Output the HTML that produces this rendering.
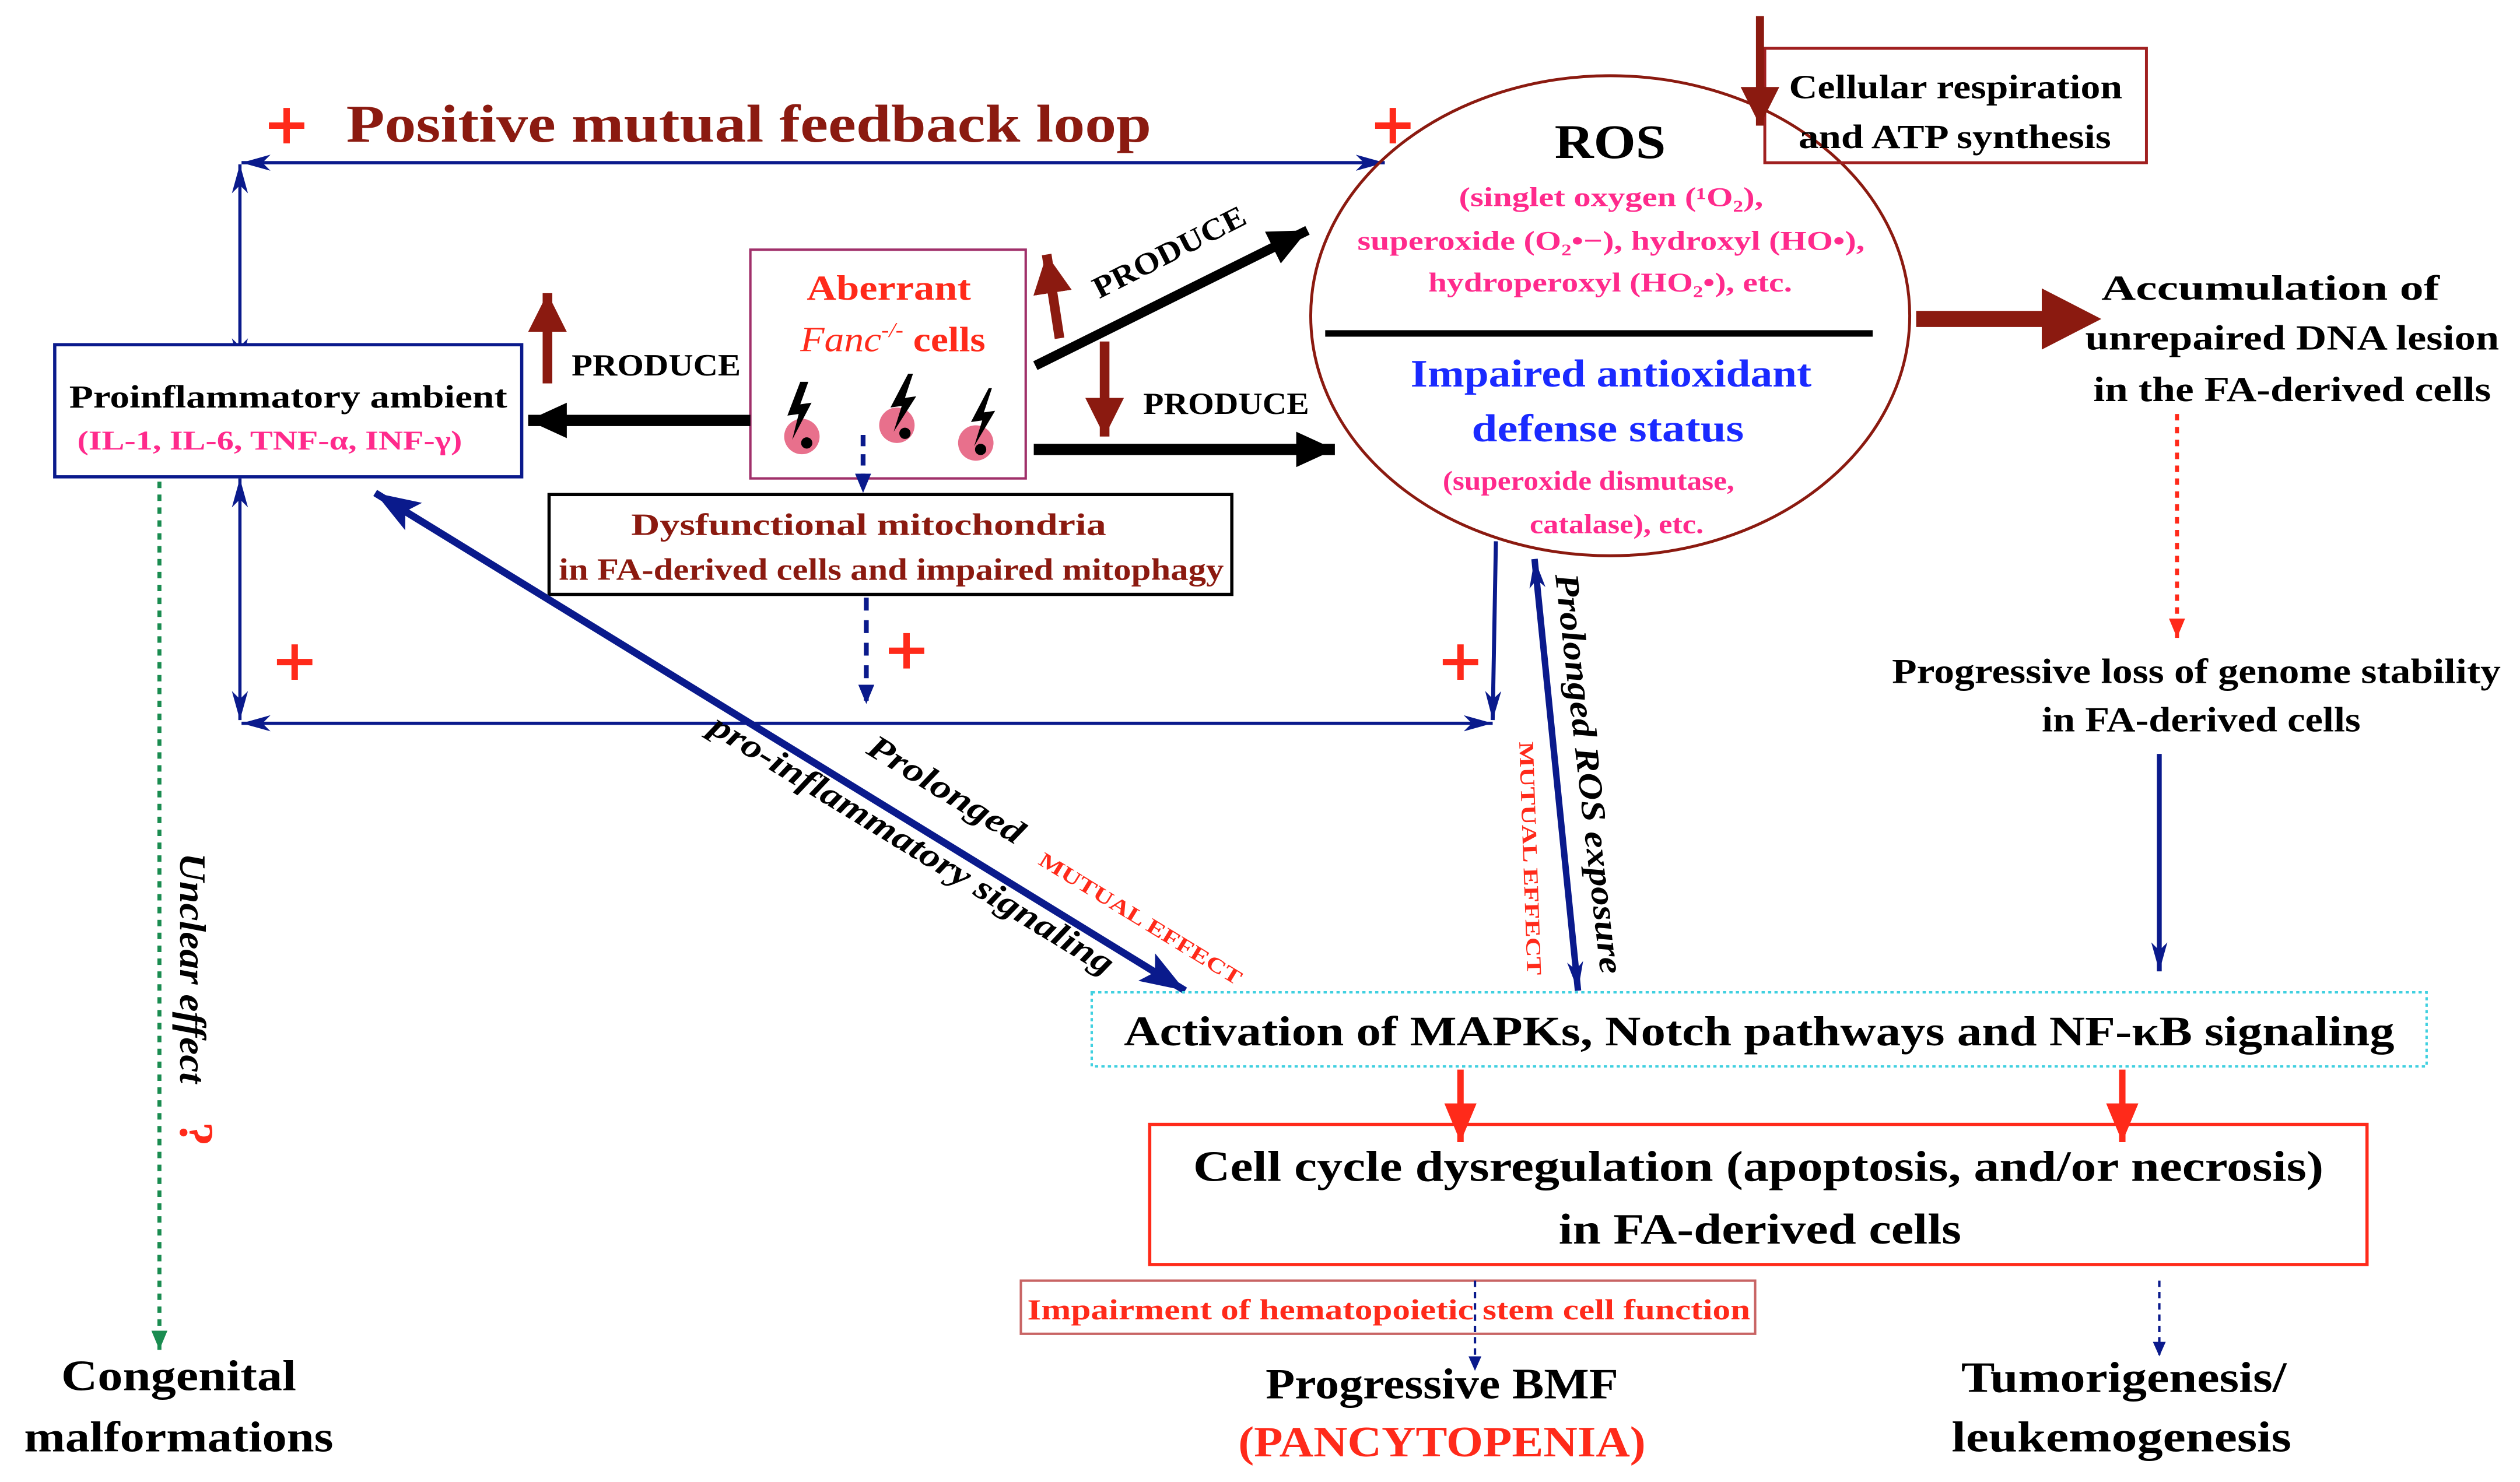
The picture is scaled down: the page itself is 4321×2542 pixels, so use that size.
<!DOCTYPE html>
<html><head><meta charset="utf-8"><style>
html,body{margin:0;padding:0;background:#fff}
svg{display:block}
text{font-family:"Liberation Serif",serif;font-weight:bold}
</style></head><body>
<svg width="4321" height="2542" viewBox="0 0 1565 920" preserveAspectRatio="none" xmlns="http://www.w3.org/2000/svg">
<defs>
<marker id="bh" markerUnits="userSpaceOnUse" markerWidth="20" markerHeight="12" refX="18" refY="6" orient="auto"><path d="M0,1 L18,6 L0,11 L5,6z" fill="#0a1a8c"/></marker>
<marker id="bhs" markerUnits="userSpaceOnUse" markerWidth="20" markerHeight="12" refX="18" refY="6" orient="auto-start-reverse"><path d="M0,1 L18,6 L0,11 L5,6z" fill="#0a1a8c"/></marker>
<marker id="bb" markerUnits="userSpaceOnUse" markerWidth="30" markerHeight="24" refX="28" refY="12" orient="auto-start-reverse"><path d="M0,2 L28,12 L0,22 L6,12z" fill="#0a1a8c"/></marker>
<marker id="bk" markerUnits="userSpaceOnUse" markerWidth="26" markerHeight="24" refX="24" refY="12" orient="auto"><path d="M0,1 L24,12 L0,23z" fill="#000"/></marker>
<marker id="dr" markerUnits="userSpaceOnUse" markerWidth="26" markerHeight="26" refX="24" refY="13" orient="auto"><path d="M0,1 L24,13 L0,25z" fill="#8b1a10"/></marker>
<marker id="rd" markerUnits="userSpaceOnUse" markerWidth="26" markerHeight="24" refX="24" refY="12" orient="auto"><path d="M0,2 L24,12 L0,22z" fill="#ff2a1a"/></marker>
<marker id="rs" markerUnits="userSpaceOnUse" markerWidth="14" markerHeight="12" refX="12" refY="6" orient="auto"><path d="M0,1 L12,6 L0,11z" fill="#ff2a1a"/></marker>
<marker id="gs" markerUnits="userSpaceOnUse" markerWidth="14" markerHeight="12" refX="12" refY="6" orient="auto"><path d="M0,1 L12,6 L0,11z" fill="#1a8c50"/></marker>
<marker id="bd" markerUnits="userSpaceOnUse" markerWidth="14" markerHeight="12" refX="12" refY="6" orient="auto"><path d="M0,1 L12,6 L0,11z" fill="#0a1a8c"/></marker>
<marker id="bs" markerUnits="userSpaceOnUse" markerWidth="10" markerHeight="8" refX="9" refY="4" orient="auto"><path d="M0,0 L9,4 L0,8z" fill="#0a1a8c"/></marker>
<path id="plus" d="M-11,-2 L-2,-2 L-2,-11 L2,-11 L2,-2 L11,-2 L11,2 L2,2 L2,11 L-2,11 L-2,2 L-11,2z" fill="#ff2a1a"/>
</defs>

<!-- title -->
<use href="#plus" x="178" y="78"/>
<text x="215" y="88" font-size="33" fill="#8b1a10" textLength="500" lengthAdjust="spacingAndGlyphs">Positive mutual feedback loop</text>
<use href="#plus" x="865" y="78"/>

<!-- loop lines -->
<line x1="150" y1="101" x2="860" y2="101" stroke="#0a1a8c" stroke-width="2" marker-start="url(#bhs)" marker-end="url(#bhs)"/>
<line x1="149" y1="102" x2="149" y2="228" stroke="#0a1a8c" stroke-width="2" marker-start="url(#bhs)" marker-end="url(#bhs)"/>
<line x1="149" y1="297" x2="149" y2="447" stroke="#0a1a8c" stroke-width="2" marker-start="url(#bhs)" marker-end="url(#bhs)"/>
<line x1="150" y1="449" x2="927" y2="449" stroke="#0a1a8c" stroke-width="2" marker-start="url(#bhs)" marker-end="url(#bhs)"/>
<line x1="929" y1="336" x2="927" y2="447" stroke="#0a1a8c" stroke-width="2.5" marker-end="url(#bh)"/>
<use href="#plus" x="183" y="411"/>
<use href="#plus" x="563" y="404"/>
<use href="#plus" x="907" y="411"/>

<!-- proinflammatory -->
<rect x="34" y="214" width="290" height="82" fill="#fff" stroke="#0a1a8c" stroke-width="2"/>
<text x="43" y="253" font-size="20" fill="#000" textLength="272" lengthAdjust="spacingAndGlyphs">Proinflammatory ambient</text>
<text x="48" y="279" font-size="17" fill="#ff2a8c" textLength="239" lengthAdjust="spacingAndGlyphs">(IL-1, IL-6, TNF-α, INF-γ)</text>

<!-- aberrant -->
<rect x="466" y="155" width="171" height="142" fill="#fff" stroke="#a0306a" stroke-width="1.5"/>
<text x="552" y="186" font-size="22" fill="#ff2a1a" text-anchor="middle" textLength="102" lengthAdjust="spacingAndGlyphs">Aberrant</text>
<text x="497" y="218" font-size="22" fill="#ff2a1a" textLength="115" lengthAdjust="spacingAndGlyphs"><tspan font-style="italic" font-weight="normal">Fanc</tspan><tspan font-size="13" dy="-9" font-style="italic" font-weight="normal">-/-</tspan><tspan dy="9"> cells</tspan></text>
<g>
<circle cx="498" cy="271" r="11" fill="#e8708c"/><circle cx="501" cy="275" r="3.5" fill="#000"/>
<path d="M497,237 L489,258 L496,257 L492,273 L504,250 L497,251 L502,237z" fill="#000"/>
<circle cx="557" cy="264" r="11" fill="#e8708c"/><circle cx="562" cy="269" r="3.5" fill="#000"/>
<path d="M564,232 L553,253 L560,252 L555,268 L569,246 L562,247 L567,232z" fill="#000"/>
<circle cx="606" cy="275" r="11" fill="#e8708c"/><circle cx="609" cy="279" r="3.5" fill="#000"/>
<path d="M614,241 L603,262 L610,261 L605,277 L618,255 L611,256 L616,241z" fill="#000"/>
</g>

<!-- produce arrows -->
<line x1="340" y1="238" x2="340" y2="182" stroke="#8b1a10" stroke-width="6" marker-end="url(#dr)"/>
<text x="355" y="233" font-size="19" fill="#000" textLength="105" lengthAdjust="spacingAndGlyphs">PRODUCE</text>
<line x1="466" y1="261" x2="328" y2="261" stroke="#000" stroke-width="7" marker-end="url(#bk)"/>
<line x1="658" y1="210" x2="650" y2="158" stroke="#8b1a10" stroke-width="6" marker-end="url(#dr)"/>
<line x1="643" y1="227" x2="812" y2="143" stroke="#000" stroke-width="6" marker-end="url(#bk)"/>
<text x="0" y="0" font-size="19" fill="#000" text-anchor="middle" transform="translate(729,162) rotate(-27)" textLength="104" lengthAdjust="spacingAndGlyphs">PRODUCE</text>
<line x1="686" y1="212" x2="686" y2="271" stroke="#8b1a10" stroke-width="6" marker-end="url(#dr)"/>
<text x="710" y="257" font-size="19" fill="#000" textLength="103" lengthAdjust="spacingAndGlyphs">PRODUCE</text>
<line x1="642" y1="279" x2="829" y2="279" stroke="#000" stroke-width="7" marker-end="url(#bk)"/>

<!-- mitochondria -->
<line x1="536" y1="270" x2="536" y2="306" stroke="#0a1a8c" stroke-width="3" stroke-dasharray="7,5" marker-end="url(#bd)"/>
<rect x="341" y="307" width="424" height="62" fill="#fff" stroke="#000" stroke-width="2"/>
<text x="392" y="332" font-size="19" fill="#8b1a10" textLength="295" lengthAdjust="spacingAndGlyphs">Dysfunctional mitochondria</text>
<text x="347" y="360" font-size="19" fill="#8b1a10" textLength="413" lengthAdjust="spacingAndGlyphs">in FA-derived cells and impaired mitophagy</text>
<line x1="538" y1="371" x2="538" y2="437" stroke="#0a1a8c" stroke-width="3" stroke-dasharray="8,6" marker-end="url(#bd)"/>

<!-- ROS ellipse -->
<ellipse cx="1000" cy="196" rx="186" ry="149" fill="none" stroke="#8b1a10" stroke-width="1.8"/>
<text x="1000" y="98" font-size="30" fill="#000" text-anchor="middle" textLength="69" lengthAdjust="spacingAndGlyphs">ROS</text>
<text x="906" y="128" font-size="17" fill="#ff2a8c" textLength="189" lengthAdjust="spacingAndGlyphs">(singlet oxygen (¹O₂),</text>
<text x="843" y="155" font-size="17" fill="#ff2a8c" textLength="315" lengthAdjust="spacingAndGlyphs">superoxide (O₂•−),  hydroxyl (HO•),</text>
<text x="887" y="181" font-size="17" fill="#ff2a8c" textLength="226" lengthAdjust="spacingAndGlyphs">hydroperoxyl (HO₂•), etc.</text>
<line x1="823" y1="207" x2="1163" y2="207" stroke="#000" stroke-width="4"/>
<text x="876" y="240" font-size="24" fill="#1a2aff" textLength="249" lengthAdjust="spacingAndGlyphs">Impaired antioxidant</text>
<text x="914" y="274" font-size="24" fill="#1a2aff" textLength="169" lengthAdjust="spacingAndGlyphs">defense status</text>
<text x="896" y="304" font-size="17" fill="#ff2a8c" textLength="181" lengthAdjust="spacingAndGlyphs">(superoxide dismutase,</text>
<text x="950" y="331" font-size="17" fill="#ff2a8c" textLength="108" lengthAdjust="spacingAndGlyphs">catalase), etc.</text>

<!-- cellular respiration -->
<rect x="1096" y="30" width="237" height="71" fill="none" stroke="#a02020" stroke-width="1.8"/>
<text x="1111" y="61" font-size="21" fill="#000" textLength="207" lengthAdjust="spacingAndGlyphs">Cellular respiration</text>
<text x="1117" y="92" font-size="21" fill="#000" textLength="194" lengthAdjust="spacingAndGlyphs">and ATP synthesis</text>
<line x1="1093" y1="10" x2="1093" y2="78" stroke="#8b1a10" stroke-width="5" marker-end="url(#dr)"/>

<!-- right side -->
<path d="M1190,193 L1268,193 L1268,179 L1305,198 L1268,217 L1268,203 L1190,203z" fill="#8b1a10"/>
<text x="1305" y="186" font-size="22" fill="#000" textLength="210" lengthAdjust="spacingAndGlyphs">Accumulation of</text>
<text x="1295" y="217" font-size="22" fill="#000" textLength="257" lengthAdjust="spacingAndGlyphs">unrepaired DNA lesion</text>
<text x="1300" y="249" font-size="22" fill="#000" textLength="247" lengthAdjust="spacingAndGlyphs">in the FA-derived cells</text>
<line x1="1352" y1="257" x2="1352" y2="396" stroke="#ff2a1a" stroke-width="2.5" stroke-dasharray="4,4" marker-end="url(#rs)"/>
<text x="1175" y="424" font-size="22" fill="#000" textLength="378" lengthAdjust="spacingAndGlyphs">Progressive loss of genome stability</text>
<text x="1268" y="454" font-size="22" fill="#000" textLength="198" lengthAdjust="spacingAndGlyphs">in FA-derived cells</text>
<line x1="1341" y1="468" x2="1341" y2="603" stroke="#0a1a8c" stroke-width="3" marker-end="url(#bh)"/>

<!-- ROS exposure arrow -->
<line x1="953" y1="347" x2="980" y2="615" stroke="#0a1a8c" stroke-width="4" marker-start="url(#bhs)" marker-end="url(#bhs)"/>
<text x="0" y="0" font-size="21" fill="#000" font-weight="normal" font-style="italic" text-anchor="middle" transform="translate(980,481) rotate(83.5)" textLength="250" lengthAdjust="spacingAndGlyphs">Prolonged ROS exposure</text>
<text x="0" y="0" font-size="13" fill="#ff2a1a" text-anchor="middle" transform="translate(946,533) rotate(88)" textLength="145" lengthAdjust="spacingAndGlyphs">MUTUAL EFFECT</text>

<!-- diagonal arrow -->
<line x1="233" y1="306" x2="736" y2="615" stroke="#0a1a8c" stroke-width="4.5" marker-start="url(#bb)" marker-end="url(#bb)"/>
<text x="0" y="0" font-size="21" fill="#000" font-weight="normal" font-style="italic" text-anchor="middle" transform="translate(584,496) rotate(31.5)" textLength="110" lengthAdjust="spacingAndGlyphs">Prolonged</text>
<text x="0" y="0" font-size="21" fill="#000" font-weight="normal" font-style="italic" text-anchor="middle" transform="translate(563,530) rotate(31.5)" textLength="290" lengthAdjust="spacingAndGlyphs">pro-inflammatory signaling</text>
<text x="0" y="0" font-size="13" fill="#ff2a1a" text-anchor="middle" transform="translate(706,574) rotate(31.5)" textLength="145" lengthAdjust="spacingAndGlyphs">MUTUAL EFFECT</text>

<!-- activation -->
<rect x="678" y="616" width="829" height="46" fill="none" stroke="#40d0e0" stroke-width="1.5" stroke-dasharray="2,2"/>
<text x="698" y="649" font-size="26" fill="#000" textLength="789" lengthAdjust="spacingAndGlyphs">Activation of MAPKs, Notch pathways and NF-κB signaling</text>
<line x1="907" y1="664" x2="907" y2="709" stroke="#ff2a1a" stroke-width="4" marker-end="url(#rd)"/>
<line x1="1318" y1="664" x2="1318" y2="709" stroke="#ff2a1a" stroke-width="4" marker-end="url(#rd)"/>

<!-- cell cycle -->
<rect x="714" y="698" width="756" height="87" fill="none" stroke="#ff2a1a" stroke-width="2"/>
<text x="741" y="733" font-size="27" fill="#000" textLength="702" lengthAdjust="spacingAndGlyphs">Cell cycle dysregulation (apoptosis, and/or necrosis)</text>
<text x="968" y="772" font-size="27" fill="#000" textLength="250" lengthAdjust="spacingAndGlyphs">in FA-derived cells</text>

<rect x="634" y="795" width="456" height="33" fill="none" stroke="#c86464" stroke-width="1.5"/>
<text x="638" y="819" font-size="18" fill="#ff2a1a" textLength="449" lengthAdjust="spacingAndGlyphs">Impairment of hematopoietic stem cell function</text>
<line x1="916" y1="795" x2="916" y2="851" stroke="#0a1a8c" stroke-width="1.5" stroke-dasharray="4,3" marker-end="url(#bs)"/>
<line x1="1341" y1="795" x2="1341" y2="842" stroke="#0a1a8c" stroke-width="1.5" stroke-dasharray="4,3" marker-end="url(#bs)"/>
<text x="786" y="868" font-size="27" fill="#000" textLength="219" lengthAdjust="spacingAndGlyphs">Progressive BMF</text>
<text x="769" y="904" font-size="27" fill="#ff2a1a" textLength="253" lengthAdjust="spacingAndGlyphs">(PANCYTOPENIA)</text>
<text x="1218" y="864" font-size="27" fill="#000" textLength="202" lengthAdjust="spacingAndGlyphs">Tumorigenesis/</text>
<text x="1212" y="901" font-size="27" fill="#000" textLength="211" lengthAdjust="spacingAndGlyphs">leukemogenesis</text>

<!-- left green -->
<line x1="99" y1="299" x2="99" y2="838" stroke="#1a8c50" stroke-width="2.5" stroke-dasharray="4,4" marker-end="url(#gs)"/>
<text x="0" y="0" font-size="23" fill="#000" font-weight="normal" font-style="italic" text-anchor="middle" transform="translate(112,601) rotate(90)" textLength="143" lengthAdjust="spacingAndGlyphs">Unclear effect</text>
<text x="0" y="0" font-size="30" fill="#ff2a1a" text-anchor="middle" transform="translate(112,704) rotate(90)">?</text>
<text x="38" y="863" font-size="27" fill="#000" textLength="146" lengthAdjust="spacingAndGlyphs">Congenital</text>
<text x="15" y="901" font-size="27" fill="#000" textLength="192" lengthAdjust="spacingAndGlyphs">malformations</text>
</svg>
</body></html>
